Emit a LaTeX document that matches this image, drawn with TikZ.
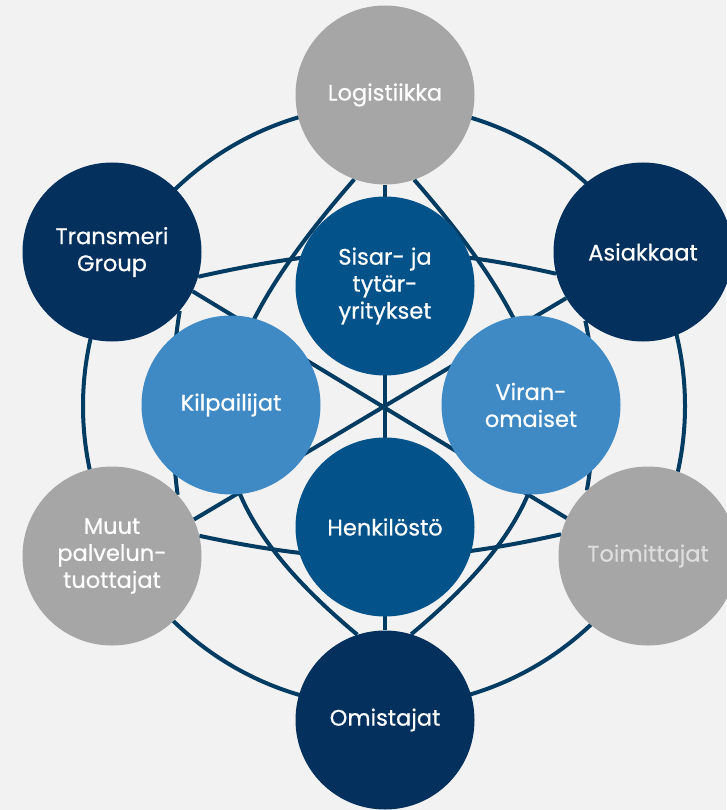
\documentclass[tikz,border=0pt]{standalone}
\usepackage{fontspec}
\setmainfont{Poppins}[BoldFont=Poppins,BoldFeatures={FakeBold=0.6}]
\definecolor{bgc}{HTML}{F2F2F2}
\definecolor{grayc}{HTML}{A6A6A6}
\definecolor{navyc}{HTML}{03305C}
\definecolor{midc}{HTML}{035289}
\definecolor{lightc}{HTML}{3F8AC5}
\definecolor{linec}{HTML}{023C62}
\definecolor{softtext}{HTML}{DEDEDE}
\pgfdeclarelayer{bglayer}
\pgfdeclarelayer{linelayer}
\pgfsetlayers{bglayer,linelayer,main}
\begin{document}
\begin{tikzpicture}[x=1pt,y=-1pt,
  disc/.style={circle,minimum size=179pt,inner sep=0pt,text=white,align=center,
    font=\fontsize{22.5}{27}\selectfont\bfseries},
  graydisc/.style={disc,fill=grayc},
  navydisc/.style={disc,fill=navyc},
  middisc/.style={disc,fill=midc},
  lightdisc/.style={disc,fill=lightc},
  conn/.style={draw=linec,line width=4pt}]
\useasboundingbox (0,0) rectangle (726,810);
\begin{pgfonlayer}{bglayer}
\fill[bgc] (0,0) rectangle (726,810);
\end{pgfonlayer}
% outer nodes
\node[graydisc] (L) at (385,95) {Logistiikka};
\node[navydisc] (T) at (112,252) {Transmeri\\Group};
\node[navydisc] (A) at (643,252) {Asiakkaat};
\node[graydisc,text=softtext] (To) at (648,556) {Toimittajat};
\node[navydisc] (O) at (385,720) {Omistajat};
\node[graydisc] (M) at (112,556) {Muut\\palvelun-\\tuottajat};
% inner nodes
\node[middisc] (S) at (385,286) {Sisar- ja\\tytär-\\yritykset};
\node[lightdisc] (K) at (231,405) {Kilpailijat};
\node[lightdisc] (V) at (531,405) {Viran-\\omaiset};
\node[middisc] (H) at (385,527) {Henkilöstö};
\coordinate (c) at (384,406);
\begin{pgfonlayer}{linelayer}
\draw[conn] (c) circle[radius=301];
\draw[conn] (L.-90) -- (O.90);
\draw[conn] (T.-26) -- (To.155.5);
\draw[conn] (A.211) -- (M.24);
% top and bottom arcs
\draw[conn] (T.-16) .. controls (336,246) and (421,243) .. (A.194);
\draw[conn] (M.13) .. controls (336,565) and (424,565) .. (To.166);
% left and right Logistiikka-Omistajat arcs
\draw[conn] (L.-110.6) .. controls (187,371) and (177,484) .. (O.108);
\draw[conn] (L.-71.8) .. controls (581,371) and (591,484) .. (O.73.6);
% side arcs
\draw[conn] (T.-41) .. controls (170,370) and (170,435) .. (M.43);
\draw[conn] (A.230.4) .. controls (596,370) and (596,440) .. (To.133);
\end{pgfonlayer}
\end{tikzpicture}
\end{document}
